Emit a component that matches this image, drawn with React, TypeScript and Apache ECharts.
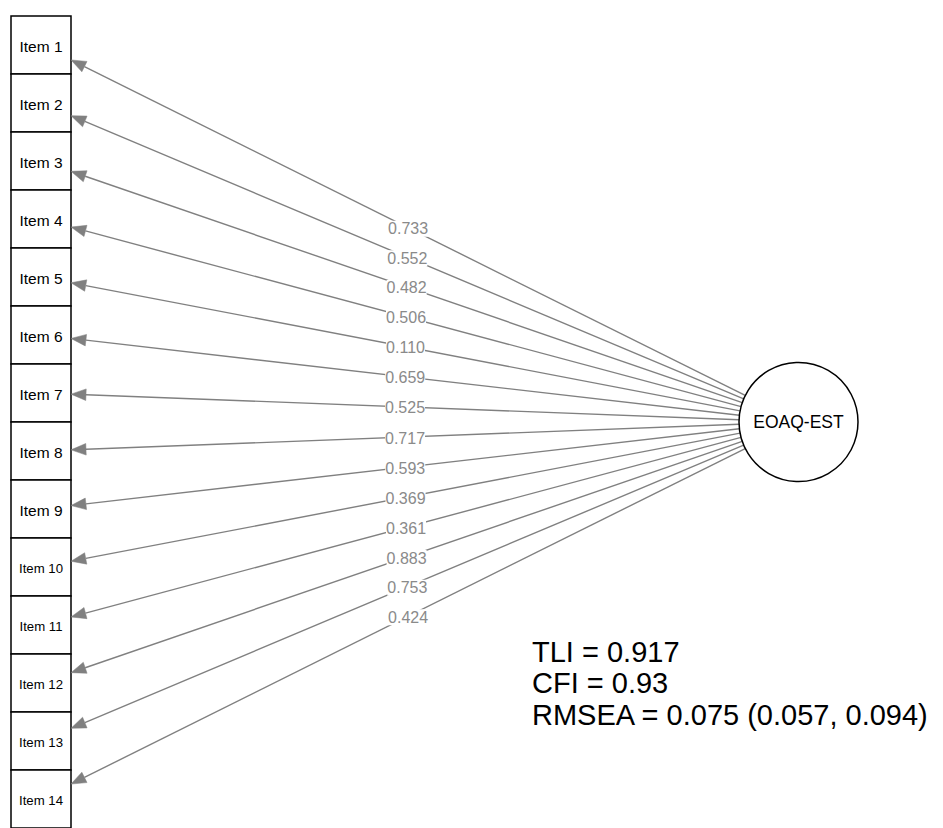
import React, { useEffect, useRef } from "react";
import * as echarts from "echarts";

// Observed indicators, their standardized loadings, and model fit summary
const items = [
  "Item 1", "Item 2", "Item 3", "Item 4", "Item 5", "Item 6", "Item 7",
  "Item 8", "Item 9", "Item 10", "Item 11", "Item 12", "Item 13", "Item 14",
];
const loadings = [
  0.733, 0.552, 0.482, 0.506, 0.11, 0.659, 0.525,
  0.717, 0.593, 0.369, 0.361, 0.883, 0.753, 0.424,
];
const latentName = "EOAQ-EST";
const fitIndices = ["TLI = 0.917", "CFI = 0.93", "RMSEA = 0.075 (0.057, 0.094)"];

// Layout (x in canvas units, y in indicator slots)
const W = 943;
const H = 828;
const SLOT_PX = 58.2;
const TOP_PX = 16;
const BOX_LEFT = 11;
const BOX_RIGHT = 71;
const LATENT_X = 798.5;
const LATENT_R = 59.5;
const FONT = '"Liberation Sans", Arial, Helvetica, sans-serif';
const EDGE_COLOR = "#808080";
const LABEL_COLOR = "#8a8a8a";

export default function App() {
  const ref = useRef<HTMLDivElement>(null);

  useEffect(() => {
    if (!ref.current) return;
    const chart = echarts.init(ref.current, null, { renderer: "svg" });
    const latentSlot = items.length / 2;

    const indicatorSeries = {
      type: "custom",
      clip: false,
      data: items.map((_, i) => [i, loadings[i]]),
      renderItem: (params: any, api: any) => {
        const i = api.value(0);
        const loading = api.value(1);
        const name = items[i];
        const tl = api.coord([BOX_LEFT, i]);
        const br = api.coord([BOX_RIGHT, i + 1]);
        const boxCx = (tl[0] + br[0]) / 2;
        const boxCy = (tl[1] + br[1]) / 2;
        const c = api.coord([LATENT_X, latentSlot]);
        const r = api.size([LATENT_R, 0])[0];

        // edge runs along the line joining the two node centres
        const dx = boxCx - c[0];
        const dy = boxCy - c[1];
        const len = Math.hypot(dx, dy);
        const ux = dx / len;
        const uy = dy / len;
        const start = [c[0] + ux * r, c[1] + uy * r];
        const t = (br[0] - c[0]) / ux;
        const tip = [br[0], c[1] + uy * t];
        const headLen = 15;
        const headHalf = 5.8;
        const base = [tip[0] - ux * headLen, tip[1] - uy * headLen];
        const px = -uy;
        const py = ux;
        const mid = [(start[0] + tip[0]) / 2, (start[1] + tip[1]) / 2];

        return {
          type: "group",
          children: [
            {
              type: "rect",
              shape: { x: tl[0], y: tl[1], width: br[0] - tl[0], height: br[1] - tl[1] },
              style: { fill: "#ffffff", stroke: "#000000", lineWidth: 1.5 },
            },
            {
              type: "text",
              x: boxCx,
              y: boxCy + 1,
              style: {
                text: name,
                font: `${name.length > 6 ? 13.2 : 15.5}px ${FONT}`,
                fill: "#000000",
                align: "center",
                verticalAlign: "middle",
              },
            },
            {
              type: "line",
              shape: { x1: start[0], y1: start[1], x2: base[0], y2: base[1] },
              style: { stroke: EDGE_COLOR, lineWidth: 1.4 },
            },
            {
              type: "polygon",
              shape: {
                points: [
                  tip,
                  [base[0] + px * headHalf, base[1] + py * headHalf],
                  [base[0] - px * headHalf, base[1] - py * headHalf],
                ],
              },
              style: { fill: EDGE_COLOR, stroke: EDGE_COLOR, lineWidth: 0.5 },
            },
            {
              type: "text",
              x: mid[0],
              y: mid[1] + 1,
              style: {
                text: loading.toFixed(3),
                font: `16px ${FONT}`,
                fill: LABEL_COLOR,
                align: "center",
                verticalAlign: "middle",
                backgroundColor: "#ffffff",
                padding: [0, 0],
              },
            },
          ],
        };
      },
    };

    const latentSeries = {
      type: "custom",
      clip: false,
      data: [[LATENT_X, latentSlot]],
      renderItem: (params: any, api: any) => {
        const c = api.coord([api.value(0), api.value(1)]);
        const r = api.size([LATENT_R, 0])[0];
        return {
          type: "group",
          children: [
            {
              type: "circle",
              shape: { cx: c[0], cy: c[1], r },
              style: { fill: "#ffffff", stroke: "#000000", lineWidth: 1.5 },
            },
            {
              type: "text",
              x: c[0],
              y: c[1],
              style: {
                text: latentName,
                font: `17.5px ${FONT}`,
                fill: "#000000",
                align: "center",
                verticalAlign: "middle",
              },
            },
          ],
        };
      },
    };

    chart.setOption({
      animation: false,
      backgroundColor: "#ffffff",
      grid: { left: 0, top: TOP_PX, width: W, height: SLOT_PX * items.length },
      xAxis: { type: "value", min: 0, max: W, show: false },
      yAxis: { type: "value", min: 0, max: items.length, inverse: true, show: false },
      series: [indicatorSeries, latentSeries],
      graphic: fitIndices.map((txt, k) => ({
        type: "text",
        left: 532,
        top: 637 + k * 31.5,
        style: {
          text: txt,
          font: `29px ${FONT}`,
          fill: "#000000",
        },
      })),
    });

    return () => chart.dispose();
  }, []);

  return (
    <div
      ref={ref}
      style={{ position: "fixed", left: 0, top: 0, width: W, height: H, background: "#fff" }}
    />
  );
}
